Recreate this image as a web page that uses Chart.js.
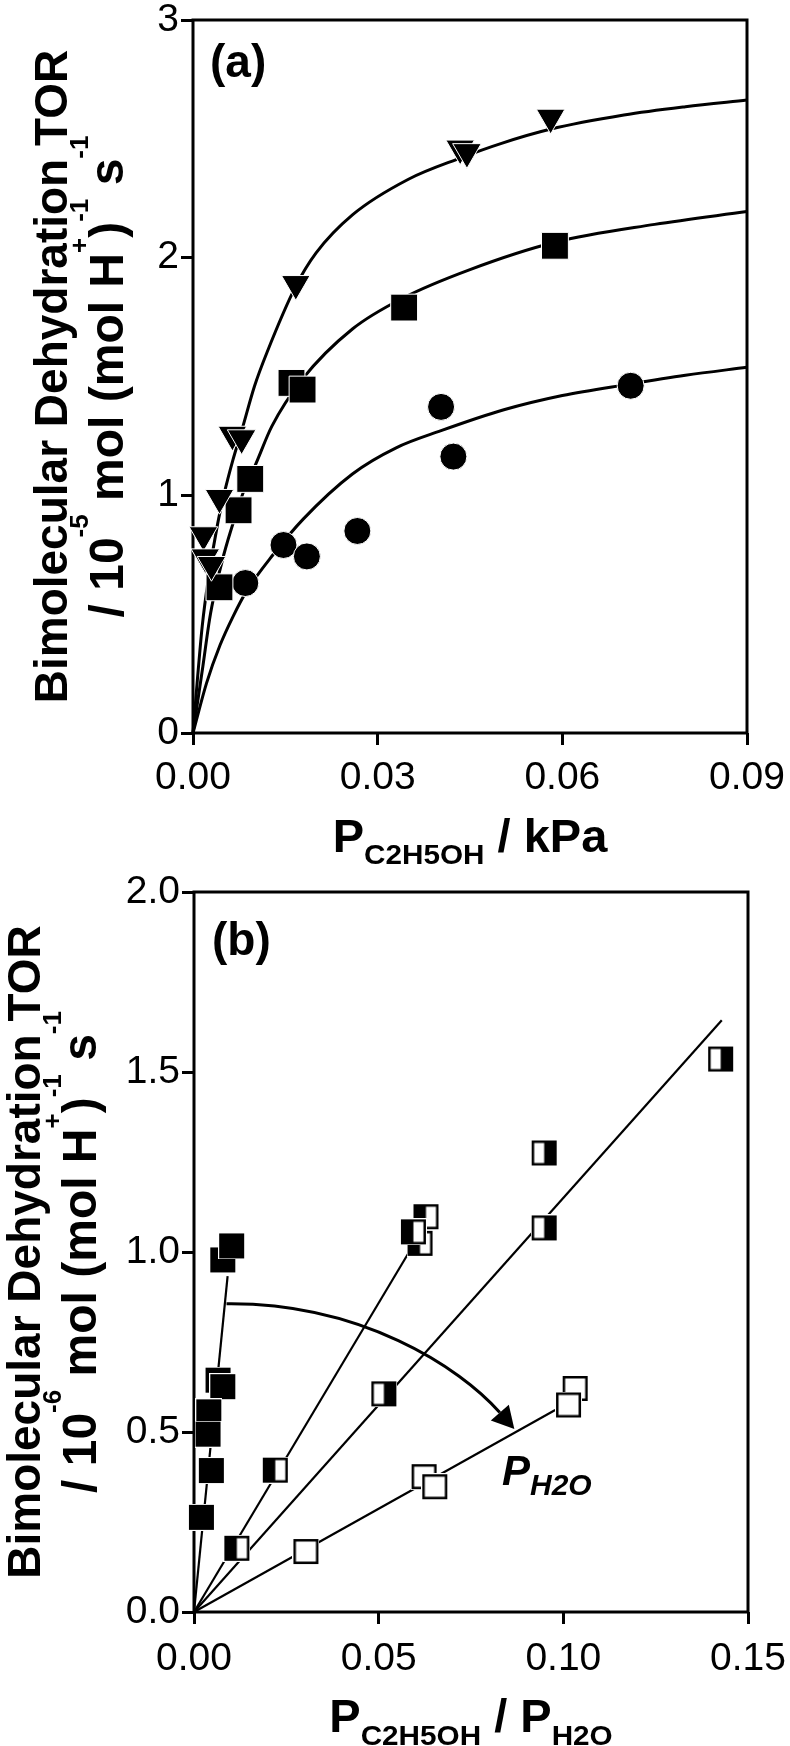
<!DOCTYPE html>
<html><head><meta charset="utf-8">
<script src="https://cdn.jsdelivr.net/npm/chart.js@4.4.1/dist/chart.umd.min.js"></script>
<style>
html,body{margin:0;padding:0;background:#fff;}
body{width:790px;height:1746px;position:relative;overflow:hidden;}
canvas{position:absolute;left:0;}
#ca{top:0;} #cb{top:870px;}
</style></head><body>
<canvas id="ca" width="790" height="870"></canvas>
<canvas id="cb" width="790" height="876"></canvas>
<script>
// ================= Panel (a) data =================
const aXTicks = [0, 0.03, 0.06, 0.09];
const aXLabels = ['0.00', '0.03', '0.06', '0.09'];
const aYTicks = [0, 1, 2, 3];
const aYLabels = ['0', '1', '2', '3'];

// measured points (inverted triangles, squares, circles)
const triX = [0.0581, 0.0434, 0.0445, 0.0167, 0.0064, 0.0079, 0.0043, 0.0017, 0.0020, 0.0030];
const triY = [2.59, 2.46, 2.445, 1.89, 1.256, 1.241, 0.99, 0.833, 0.740, 0.708];
const sqX = [0.0588, 0.0343, 0.0160, 0.0178, 0.0093, 0.0074, 0.0043];
const sqY = [2.05, 1.79, 1.473, 1.445, 1.069, 0.937, 0.613];
const cirX = [0.0711, 0.0403, 0.0423, 0.0267, 0.0147, 0.0185, 0.0085];
const cirY = [1.461, 1.372, 1.163, 0.850, 0.791, 0.743, 0.631];

// fitted curves
const triFitX = [0, 0.0007, 0.0015, 0.0025, 0.0040, 0.0050, 0.0065, 0.0080, 0.0100, 0.0120, 0.0167, 0.0200, 0.0259, 0.0350, 0.0435, 0.0500, 0.0580, 0.0700, 0.0800, 0.0900];
const triFitY = [0, 0.22, 0.45, 0.65, 0.88, 1.00, 1.15, 1.28, 1.46, 1.60, 1.88, 2.02, 2.18, 2.33, 2.42, 2.48, 2.54, 2.60, 2.635, 2.663];
const sqFitX = [0, 0.0016, 0.0027, 0.0036, 0.0050, 0.0066, 0.0087, 0.0100, 0.0128, 0.0178, 0.0259, 0.0341, 0.0450, 0.0588, 0.0750, 0.0900];
const sqFitY = [0, 0.28, 0.48, 0.60, 0.75, 0.89, 1.05, 1.12, 1.29, 1.49, 1.70, 1.83, 1.95, 2.065, 2.14, 2.194];
const cirFitX = [0, 0.0022, 0.0044, 0.0065, 0.0087, 0.0130, 0.0179, 0.0259, 0.0330, 0.0403, 0.0505, 0.0600, 0.0709, 0.0800, 0.0900];
const cirFitY = [0, 0.21, 0.37, 0.49, 0.597, 0.75, 0.90, 1.09, 1.20, 1.272, 1.36, 1.42, 1.468, 1.505, 1.539];

// ================= Panel (b) data =================
const bXTicks = [0, 0.05, 0.10, 0.15];
const bXLabels = ['0.00', '0.05', '0.10', '0.15'];
const bYTicks = [0, 0.5, 1.0, 1.5, 2.0];
const bYLabels = ['0.0', '0.5', '1.0', '1.5', '2.0'];

const fullX = [0.0078, 0.0102, 0.0065, 0.0078, 0.0040, 0.0038, 0.0047, 0.0020];
const fullY = [0.978, 1.017, 0.644, 0.626, 0.556, 0.494, 0.393, 0.263];
const leftX = [0.0628, 0.0612, 0.0594, 0.0220, 0.0116];
const leftY = [1.098, 1.024, 1.056, 0.394, 0.177];
const rightX = [0.1426, 0.0948, 0.0948, 0.0514];
const rightY = [1.536, 1.275, 1.067, 0.606];
const openX = [0.1032, 0.1014, 0.0623, 0.0652, 0.0303];
const openY = [0.621, 0.575, 0.376, 0.348, 0.168];

const fit1X = [0, 0.0091], fit1Y = [0, 0.933];
const fit2X = [0, 0.0580], fit2Y = [0, 0.996];
const fit3X = [0, 0.1429], fit3Y = [0, 1.644];
const fit4X = [0, 0.0978], fit4Y = [0, 0.561];

// curved arrow (bezier control points, data units)
const arrowX = [0.0088, 0.045, 0.072, 0.0828];
const arrowY = [0.856, 0.86, 0.68, 0.554];

// ================= helpers =================
const FONT = '"Liberation Sans", Arial, Helvetica, sans-serif';
const zip = (xs, ys) => xs.map((x, i) => ({x: x, y: ys[i]}));

function fontStr(r) {
  return (r.italic ? 'italic ' : '') + (r.normal ? '' : 'bold ') + r.size + 'px ' + FONT;
}
function drawRich(ctx, x, y, rot, align, runs) {
  ctx.save();
  ctx.translate(x, y);
  if (rot) ctx.rotate(rot);
  ctx.fillStyle = '#000';
  ctx.textBaseline = 'alphabetic';
  ctx.textAlign = 'left';
  let total = 0;
  runs.forEach(r => { ctx.font = fontStr(r); r._w = ctx.measureText(r.t).width * (r.sx || 1); total += r._w; });
  let cx = align === 'center' ? -total / 2 : 0;
  runs.forEach(r => {
    ctx.font = fontStr(r);
    ctx.save();
    ctx.translate(cx, r.dy || 0);
    if (r.sx) ctx.scale(r.sx, 1);
    ctx.fillText(r.t, 0, 0);
    ctx.restore();
    cx += r._w;
  });
  ctx.restore();
}

function xAxis(min, max, ticks, labels, height, pad) {
  return {
    type: 'linear', position: 'bottom', min: min, max: max,
    afterBuildTicks: s => { s.ticks = ticks.map(v => ({value: v})); },
    afterFit: s => { s.height = height; s.paddingLeft = 0; s.paddingRight = 0; },
    ticks: { callback: (v, i) => labels[i], font: {family: FONT, size: 39}, color: '#000',
             padding: pad, maxRotation: 0, minRotation: 0, autoSkip: false },
    grid: { display: true, drawOnChartArea: false, drawTicks: true, tickLength: 12, tickWidth: 3, tickColor: '#000' },
    border: { display: false }
  };
}
function yAxis(min, max, ticks, labels, width) {
  return {
    type: 'linear', position: 'left', min: min, max: max,
    afterBuildTicks: s => { s.ticks = ticks.map(v => ({value: v})); },
    afterFit: s => { s.width = width; s.paddingTop = 0; s.paddingBottom = 0; },
    ticks: { callback: (v, i) => labels[i], font: {family: FONT, size: 39}, color: '#000',
             padding: 2, autoSkip: false },
    grid: { display: true, drawOnChartArea: false, drawTicks: true, tickLength: 12, tickWidth: 3, tickColor: '#000' },
    border: { display: false }
  };
}

const framePlugin = {
  id: 'frame',
  beforeDatasetsDraw(chart) {
    const a = chart.chartArea, ctx = chart.ctx;
    ctx.save();
    ctx.lineWidth = 3; ctx.strokeStyle = '#000';
    ctx.strokeRect(a.left, a.top, a.right - a.left, a.bottom - a.top);
    ctx.restore();
  }
};

function textPlugin(items) {
  return {
    id: 'texts',
    afterDraw(chart) {
      const a = chart.chartArea;
      items(a).forEach(it => drawRich(chart.ctx, it.x, it.y, it.rot, it.align, it.runs));
    }
  };
}

function yTitleRuns(exp) {
  return [
    {t: '/ 10', size: 48},
    {t: exp, size: 26, dy: -35},
    {t: ' mol (mol H', size: 48},
    {t: '+', size: 26, dy: -35},
    {t: ')', size: 48},
    {t: '-1', size: 26, dy: -35},
    {t: ' s', size: 48},
    {t: '-1', size: 26, dy: -35}
  ];
}

// ================= Chart (a) =================
new Chart(document.getElementById('ca'), {
  type: 'scatter',
  data: {
    datasets: [
      {data: zip(triX, triY), pointStyle: 'triangle', pointRotation: 180, pointRadius: 16.5,
       backgroundColor: '#000', borderColor: '#fff', borderWidth: 1, order: 0, clip: false},
      {data: zip(sqX, sqY), pointStyle: 'rect', pointRadius: 19,
       backgroundColor: '#000', borderColor: '#fff', borderWidth: 1, order: 0, clip: false},
      {data: zip(cirX, cirY), pointStyle: 'circle', pointRadius: 13.5,
       backgroundColor: '#000', borderColor: '#fff', borderWidth: 1, order: 0, clip: false},
      {data: zip(triFitX, triFitY), showLine: true, pointRadius: 0, borderColor: '#000', borderWidth: 3,
       cubicInterpolationMode: 'monotone', fill: false, order: 1, clip: false},
      {data: zip(sqFitX, sqFitY), showLine: true, pointRadius: 0, borderColor: '#000', borderWidth: 3,
       cubicInterpolationMode: 'monotone', fill: false, order: 1, clip: false},
      {data: zip(cirFitX, cirFitY), showLine: true, pointRadius: 0, borderColor: '#000', borderWidth: 3,
       cubicInterpolationMode: 'monotone', fill: false, order: 1, clip: false}
    ]
  },
  options: {
    responsive: false, animation: false, devicePixelRatio: 1,
    layout: { padding: {left: 0, right: 43, top: 14, bottom: 0} },
    plugins: { legend: {display: false}, tooltip: {enabled: false} },
    scales: {
      x: xAxis(0, 0.09, aXTicks, aXLabels, 137, 10),
      y: yAxis(0, 3, aYTicks, aYLabels, 193)
    }
  },
  plugins: [framePlugin, textPlugin(a => {
    const cy = (a.top + a.bottom) / 2;
    return [
      {x: 67, y: cy, rot: -Math.PI / 2, align: 'center', runs: [{t: 'Bimolecular Dehydration TOR', size: 46}]},
      {x: 123, y: cy, rot: -Math.PI / 2, align: 'center', runs: yTitleRuns('-5')},
      {x: (a.left + a.right) / 2, y: 852, align: 'center', runs: [
        {t: 'P', size: 47}, {t: 'C2H5OH', size: 27, dy: 12, sx: 1.1}, {t: ' / kPa', size: 47}]},
      {x: 210, y: 77, align: 'left', runs: [{t: '(a)', size: 46}]}
    ];
  })]
});

// ================= Chart (b) =================
function sqImage(kind) {
  const s = 27, c = document.createElement('canvas');
  c.width = s; c.height = s;
  const g = c.getContext('2d');
  g.fillStyle = '#fff'; g.fillRect(0, 0, s, s);
  g.fillStyle = '#000'; g.fillRect(1, 1, s - 2, s - 2);
  g.fillStyle = '#fff';
  const i0 = 3.5, i1 = s - 3.5, mid = s / 2;
  if (kind === 'open') g.fillRect(i0, i0, i1 - i0, i1 - i0);
  if (kind === 'left') g.fillRect(mid, i0, i1 - mid, i1 - i0);
  if (kind === 'right') g.fillRect(i0, i0, mid - i0, i1 - i0);
  return c;
}

const arrowPlugin = {
  id: 'arrow',
  afterDatasetsDraw(chart) {
    const xs = chart.scales.x, ys = chart.scales.y, ctx = chart.ctx;
    const p = arrowX.map((v, i) => [xs.getPixelForValue(v), ys.getPixelForValue(arrowY[i])]);
    ctx.save();
    ctx.strokeStyle = '#000'; ctx.fillStyle = '#000'; ctx.lineWidth = 3;
    ctx.beginPath();
    ctx.moveTo(p[0][0], p[0][1]);
    ctx.bezierCurveTo(p[1][0], p[1][1], p[2][0], p[2][1], p[3][0], p[3][1]);
    ctx.stroke();
    const ang = Math.atan2(p[3][1] - p[2][1], p[3][0] - p[2][0]);
    const L = 22, W = 12, c = Math.cos(ang), s = Math.sin(ang);
    ctx.beginPath();
    ctx.moveTo(p[3][0] + L * c, p[3][1] + L * s);
    ctx.lineTo(p[3][0] - W * s, p[3][1] + W * c);
    ctx.lineTo(p[3][0] + W * s, p[3][1] - W * c);
    ctx.closePath();
    ctx.fill();
    ctx.restore();
  }
};

new Chart(document.getElementById('cb'), {
  type: 'scatter',
  data: {
    datasets: [
      {data: zip(fullX, fullY), pointStyle: sqImage('full'), pointRadius: 13, order: 0, clip: false},
      {data: zip(leftX, leftY), pointStyle: sqImage('left'), pointRadius: 13, order: 0, clip: false},
      {data: zip(rightX, rightY), pointStyle: sqImage('right'), pointRadius: 13, order: 0, clip: false},
      {data: zip(openX, openY), pointStyle: sqImage('open'), pointRadius: 13, order: 0, clip: false},
      {data: zip(fit1X, fit1Y), showLine: true, pointRadius: 0, borderColor: '#000', borderWidth: 2.2, order: 1, clip: false},
      {data: zip(fit2X, fit2Y), showLine: true, pointRadius: 0, borderColor: '#000', borderWidth: 2.2, order: 1, clip: false},
      {data: zip(fit3X, fit3Y), showLine: true, pointRadius: 0, borderColor: '#000', borderWidth: 2.2, order: 1, clip: false},
      {data: zip(fit4X, fit4Y), showLine: true, pointRadius: 0, borderColor: '#000', borderWidth: 2.2, order: 1, clip: false}
    ]
  },
  options: {
    responsive: false, animation: false, devicePixelRatio: 1,
    layout: { padding: {left: 0, right: 42, top: 22, bottom: 0} },
    plugins: { legend: {display: false}, tooltip: {enabled: false} },
    scales: {
      x: xAxis(0, 0.15, bXTicks, bXLabels, 134, 12),
      y: yAxis(0, 2, bYTicks, bYLabels, 194)
    }
  },
  plugins: [framePlugin, arrowPlugin, textPlugin(a => {
    const cy = (a.top + a.bottom) / 2;
    return [
      {x: 40, y: cy, rot: -Math.PI / 2, align: 'center', runs: [{t: 'Bimolecular Dehydration TOR', size: 46}]},
      {x: 96, y: cy, rot: -Math.PI / 2, align: 'center', runs: yTitleRuns('-6')},
      {x: (a.left + a.right) / 2, y: 862, align: 'center', runs: [
        {t: 'P', size: 47}, {t: 'C2H5OH', size: 27, dy: 13, sx: 1.1}, {t: ' / P', size: 47},
        {t: 'H2O', size: 27, dy: 13, sx: 1.1}]},
      {x: 212, y: 85, align: 'left', runs: [{t: '(b)', size: 46}]},
      {x: 502, y: 615, align: 'left', runs: [{t: 'P', size: 42, italic: true}, {t: 'H2O', size: 30, italic: true, dy: 10}]}
    ];
  })]
});
</script>
</body></html>
